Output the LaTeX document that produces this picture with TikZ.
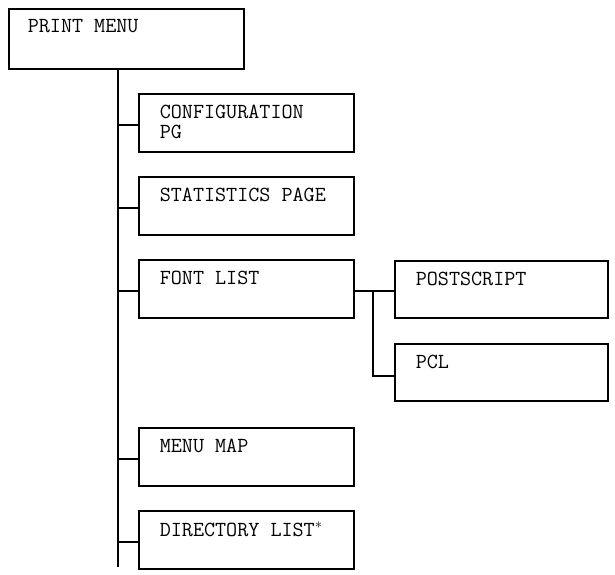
\documentclass[tikz,border=0pt]{standalone}
\begin{document}
\begin{tikzpicture}[x=1pt, y=-1pt, line width=1.6pt,
  every node/.style={inner sep=0pt},
  menu/.style={draw, rectangle, anchor=north west, minimum width=215pt, minimum height=58pt},
  txt/.style={anchor=north west, align=left, font=\ttfamily\fontsize{21.5}{20}\selectfont}]
\useasboundingbox (0,0) rectangle (615,574);
\node[menu, minimum width=235pt, minimum height=60pt] (pm) at (8,8) {};
\node[txt] at (27,19) {PRINT MENU};
\node[menu] (cfg) at (138,93) {};
\node[txt] at (159,104) {CONFIGURATION\\PG};
\node[menu] (stat) at (138,176) {};
\node[txt] at (159,187) {STATISTICS PAGE};
\node[menu] (font) at (138,259) {};
\node[txt] at (159,270) {FONT LIST};
\node[menu] (map) at (138,427) {};
\node[txt] at (159,438) {MENU MAP};
\node[menu] (dir) at (138,510) {};
\node[txt] at (159,521) {DIRECTORY LIST$^*$};
\node[menu, minimum width=213pt, minimum height=57pt] (ps) at (394,260) {};
\node[txt] at (415,271) {POSTSCRIPT};
\node[menu, minimum width=213pt, minimum height=57pt] (pcl) at (394,343) {};
\node[txt] at (415,354) {PCL};
\coordinate (t0) at (118,68);
\coordinate (t1) at (118,567);
\draw (t0) -- (t1);
\foreach \n in {cfg,stat,font,map,dir}
  \draw (t0 |- \n.north west) ++(0,32) -- ++(20,0);
\coordinate (f0) at (373,291);
\coordinate (f1) at (373,376);
\draw (font.east |- f0) -- (f0) -- (f1) -- (pcl.west |- f1);
\draw (f0) -- (ps.west |- f0);
\end{tikzpicture}
\end{document}
